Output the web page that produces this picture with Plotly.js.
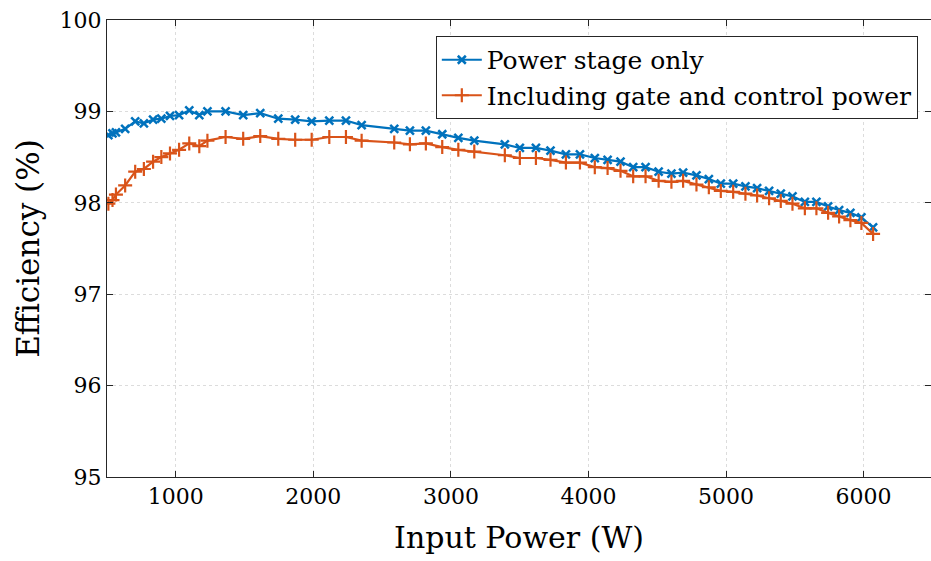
<!DOCTYPE html>
<html>
<head>
<meta charset="utf-8">
<script src="https://cdn.plot.ly/plotly-3.0.1.min.js"></script>
<style>html,body{margin:0;padding:0;background:#fff;}#chart{width:931px;height:561px;}</style>
</head>
<body>
<div id="chart"></div>
<script>
const inputPower = [510, 540, 565, 632, 705, 768, 835, 895, 958, 1024, 1098, 1171, 1230, 1362, 1490, 1614, 1745, 1868, 1988, 2116, 2237, 2351, 2588, 2702, 2818, 2937, 3054, 3170, 3392, 3501, 3618, 3724, 3836, 3938, 4046, 4139, 4233, 4325, 4415, 4510, 4603, 4688, 4785, 4875, 4962, 5052, 5141, 5226, 5313, 5398, 5483, 5573, 5657, 5742, 5822, 5904, 5984, 6069];
const powerStageOnly = [98.74, 98.76, 98.77, 98.81, 98.89, 98.87, 98.91, 98.92, 98.95, 98.96, 99.01, 98.96, 99.00, 99.00, 98.96, 98.98, 98.92, 98.91, 98.89, 98.90, 98.90, 98.85, 98.81, 98.79, 98.79, 98.75, 98.71, 98.68, 98.64, 98.60, 98.60, 98.57, 98.53, 98.53, 98.49, 98.47, 98.45, 98.39, 98.39, 98.34, 98.32, 98.33, 98.30, 98.26, 98.21, 98.21, 98.18, 98.16, 98.13, 98.10, 98.07, 98.01, 98.01, 97.96, 97.92, 97.89, 97.84, 97.73];
const includingGate = [97.99, 98.03, 98.09, 98.19, 98.34, 98.37, 98.45, 98.50, 98.54, 98.58, 98.65, 98.62, 98.68, 98.72, 98.70, 98.73, 98.70, 98.69, 98.69, 98.72, 98.72, 98.68, 98.66, 98.64, 98.65, 98.61, 98.58, 98.56, 98.52, 98.49, 98.49, 98.47, 98.44, 98.44, 98.39, 98.38, 98.35, 98.29, 98.29, 98.24, 98.23, 98.24, 98.20, 98.17, 98.13, 98.12, 98.10, 98.08, 98.05, 98.02, 97.99, 97.94, 97.94, 97.89, 97.85, 97.81, 97.78, 97.66];
const seriesNames = ["Power stage only", "Including gate and control power"];
const xTicks = [1000, 2000, 3000, 4000, 5000, 6000];
const yTicks = [95, 96, 97, 98, 99, 100];

const FONT = "DejaVu Serif";
const traces = [
  {x: inputPower, y: powerStageOnly, name: seriesNames[0], type: 'scatter', mode: 'lines+markers',
   line: {color: '#0072BD', width: 2.2},
   marker: {symbol: 'x-thin', size: 8, color: '#0072BD', line: {color: '#0072BD', width: 2.5}}},
  {x: inputPower, y: includingGate, name: seriesNames[1], type: 'scatter', mode: 'lines+markers',
   line: {color: '#D95319', width: 2.2},
   marker: {symbol: 'cross-thin', size: 10, color: '#D95319', line: {color: '#D95319', width: 2.2}}}
];
const axisCommon = {
  showline: true, linecolor: '#262626', linewidth: 1, mirror: 'ticks',
  ticks: 'inside', ticklen: 6, tickcolor: '#262626', tickwidth: 1,
  showgrid: true, gridcolor: '#dcdcdc', griddash: 'dot', gridwidth: 1,
  zeroline: false, tickfont: {family: FONT, size: 22, color: '#000'}
};
const layout = {
  width: 931, height: 561,
  margin: {l: 107, r: 0, t: 20, b: 84},
  paper_bgcolor: '#fff', plot_bgcolor: '#fff',
  font: {family: FONT, color: '#000'},
  xaxis: Object.assign({}, axisCommon, {
    range: [500, 6490], tickvals: xTicks, ticktext: xTicks.map(String),
    title: {text: 'Input Power (W)', font: {family: FONT, size: 30}, standoff: 18}
  }),
  yaxis: Object.assign({}, axisCommon, {
    range: [95, 100], tickvals: yTicks, ticktext: yTicks.map(String),
    title: {text: 'Efficiency (%)', font: {family: FONT, size: 31}, standoff: 10}
  }),
  legend: {x: 0.984, y: 0.965, xanchor: 'right', yanchor: 'top',
    bgcolor: '#fff', bordercolor: '#262626', borderwidth: 1,
    font: {family: FONT, size: 25, color: '#000'}, tracegroupgap: 0, itemwidth: 40},
  showlegend: true
};
Plotly.newPlot('chart', traces, layout, {staticPlot: true, displayModeBar: false});
</script>
</body>
</html>
